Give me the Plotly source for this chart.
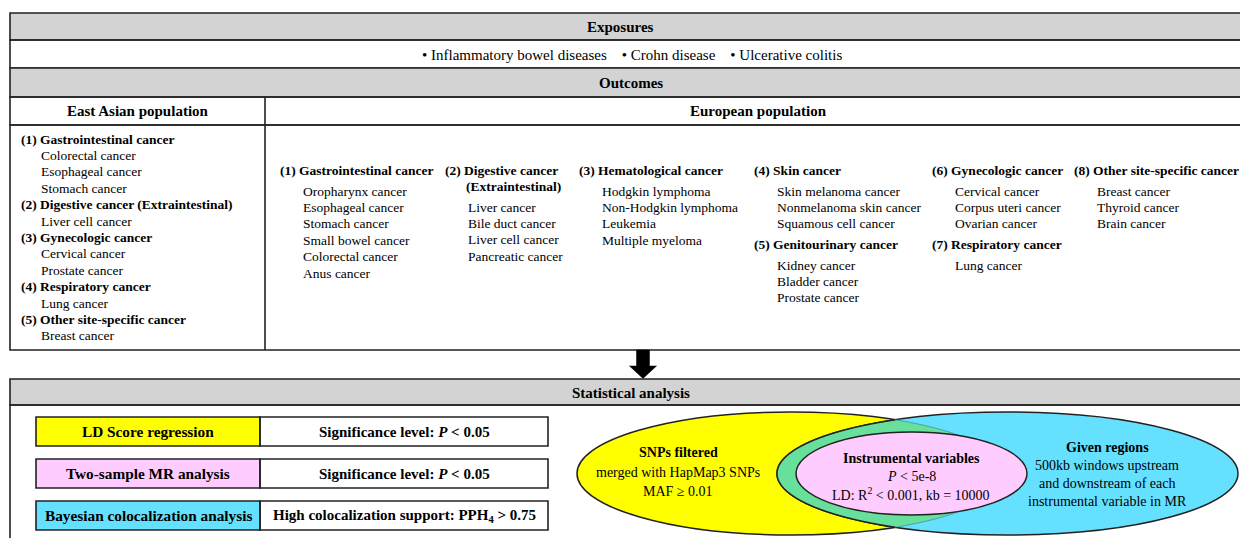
import numpy as np
import plotly.graph_objects as go

# ---------------- content ----------------
exposures = ["Inflammatory bowel diseases", "Crohn disease", "Ulcerative colitis"]

east_asian_headers = ["(1) Gastrointestinal cancer", "(2) Digestive cancer (Extraintestinal)",
                      "(3) Gynecologic cancer", "(4) Respiratory cancer", "(5) Other site-specific cancer"]
east_asian_items = [["Colorectal cancer", "Esophageal cancer", "Stomach cancer"],
                    ["Liver cell cancer"],
                    ["Cervical cancer", "Prostate cancer"],
                    ["Lung cancer"],
                    ["Breast cancer"]]

eu_headers = ["(1) Gastrointestinal cancer", "(2) Digestive cancer", "(3) Hematological cancer",
              "(4) Skin cancer", "(5) Genitourinary cancer", "(6) Gynecologic cancer",
              "(7) Respiratory cancer", "(8) Other site-specific cancer"]
eu_subheaders = ["", "(Extraintestinal)", "", "", "", "", "", ""]
eu_items = [["Oropharynx cancer", "Esophageal cancer", "Stomach cancer", "Small bowel cancer",
             "Colorectal cancer", "Anus cancer"],
            ["Liver cancer", "Bile duct cancer", "Liver cell cancer", "Pancreatic cancer"],
            ["Hodgkin lymphoma", "Non-Hodgkin lymphoma", "Leukemia", "Multiple myeloma"],
            ["Skin melanoma cancer", "Nonmelanoma skin cancer", "Squamous cell cancer"],
            ["Kidney cancer", "Bladder cancer", "Prostate cancer"],
            ["Cervical cancer", "Corpus uteri cancer", "Ovarian cancer"],
            ["Lung cancer"],
            ["Breast cancer", "Thyroid cancer", "Brain cancer"]]

methods = ["LD Score regression", "Two-sample MR analysis", "Bayesian colocalization analysis"]
criteria = ["Significance level: <i>P</i> < 0.05", "Significance level: <i>P</i> < 0.05",
            "High colocalization support: PPH<sub>4</sub> > 0.75"]
method_colors = ["#FFFF00", "#FFCCFF", "#66E0FF"]

snp_text = ["<b>SNPs filtered</b>", "merged with HapMap3 SNPs", "MAF ≥ 0.01"]
iv_text = ["<b>Instrumental variables</b>", "<i>P</i> < 5e-8", "LD: R<sup>2</sup> < 0.001, kb = 10000"]
region_text = ["<b>Given regions</b>", "500kb windows upstream", "and downstream of each",
               "instrumental variable in MR"]

# ---------------- styling ----------------
FONT = "Liberation Serif"
LC = "#222222"
LW = 1.6
GRAY = "#D3D3D3"
YEL, CYA, PNK, GRN = "#FFFF00", "#66E0FF", "#FFCCFF", "#66E09A"

shapes = []
annots = []


def rect(x0, y0, x1, y1, fill="rgba(0,0,0,0)", lw=LW):
    shapes.append(dict(type="rect", x0=x0, y0=y0, x1=x1, y1=y1, xref="x", yref="y",
                       fillcolor=fill, line=dict(color=LC, width=lw), layer="above"))


def line(x0, y0, x1, y1, lw=LW):
    shapes.append(dict(type="line", x0=x0, y0=y0, x1=x1, y1=y1, xref="x", yref="y",
                       line=dict(color=LC, width=lw), layer="above"))


def text(x, y, s, size=13.5, bold=False, anchor="left"):
    if bold:
        s = "<b>" + s + "</b>"
    annots.append(dict(x=x, y=y, xref="x", yref="y", text=s, showarrow=False,
                       xanchor=anchor, yanchor="middle", borderpad=0,
                       font=dict(family=FONT, size=size, color="black")))


# ---------------- top table ----------------
R = 1260
rect(10, 13, R, 40, GRAY)
rect(10, 40, R, 68)
rect(10, 68, R, 97, GRAY)
rect(10, 97, R, 125)
rect(10, 125, R, 350)
line(265, 97, 265, 350)

HS = 15
NB = "\u00a0"
text(620, 27, "Exposures", HS, True, "center")
text(632, 55, ("\u2022 " + exposures[0] + NB * 4 + "\u2022 " + exposures[1] + NB * 4
               + "\u2022 " + exposures[2]), HS, False, "center")
text(631, 83, "Outcomes", HS, True, "center")
text(138, 111, "East Asian population", HS, True, "center")
text(758, 111, "European population", HS, True, "center")

STEP = 16.4
y = 139
for h, items in zip(east_asian_headers, east_asian_items):
    text(20, y, h, bold=True)
    y += STEP
    for it in items:
        text(40, y, it)
        y += STEP

# European columns: (group index, x, header y)
eu_pos = [(0, 279, 170), (1, 444, 170), (2, 578, 170), (3, 753, 170), (4, 753, 244),
          (5, 931, 170), (6, 931, 244), (7, 1073, 170)]
for gi, x, hy in eu_pos:
    text(x, hy, eu_headers[gi], bold=True)
    yy = hy + 21
    ix = x + 23
    if eu_subheaders[gi]:
        text(x + 21, hy + 16.4, eu_subheaders[gi], bold=True)
        yy = hy + 37
    for it in eu_items[gi]:
        text(ix, yy, it)
        yy += STEP

# ---------------- arrow ----------------
shapes.append(dict(type="path", xref="x", yref="y",
                   path="M 636.5 350 L 649.5 350 L 649.5 366 L 656.5 366 L 643 378.5 L 629.5 366 L 636.5 366 Z",
                   fillcolor="black", line=dict(color="black", width=0.5), layer="above"))

# ---------------- statistical analysis ----------------
rect(10, 379, R, 405, GRAY)
rect(10, 405, R, 560)
text(631, 393, "Statistical analysis", HS, True, "center")

rows = [(417, 446), (459, 488), (501, 530)]
for (y0, y1), m, c, col in zip(rows, methods, criteria, method_colors):
    rect(36, y0, 260, y1, col)
    rect(260, y0, 548, y1)
    text(148, (y0 + y1) / 2, m, 15.3, True, "center")
    text(404, (y0 + y1) / 2, c, 15, True, "center")

# ellipses
c1, a1, b1 = 791.0, 214.0, 61.5   # yellow
c2, a2, b2 = 1007.5, 230.5, 61.5  # cyan
cy = 473.5
shapes.append(dict(type="circle", xref="x", yref="y", x0=c1 - a1, x1=c1 + a1, y0=cy - b1, y1=cy + b1,
                   fillcolor=YEL, line=dict(color=LC, width=1.5), layer="above"))
shapes.append(dict(type="circle", xref="x", yref="y", x0=c2 - a2, x1=c2 + a2, y0=cy - b2, y1=cy + b2,
                   fillcolor=CYA, line=dict(color=LC, width=1.5), layer="above"))

# lens (intersection of yellow and cyan)
th = np.linspace(-np.pi, np.pi, 2001)
yx, yy_ = c1 + a1 * np.cos(th), cy + b1 * np.sin(th)
inside_c = ((yx - c2) / a2) ** 2 + ((yy_ - cy) / b2) ** 2 <= 1
yarc = [(x, y) for x, y, k in zip(yx, yy_, inside_c) if k]
ph = np.linspace(0, 2 * np.pi, 2001)
cx_, cyy = c2 + a2 * np.cos(ph), cy + b2 * np.sin(ph)
inside_y = ((cx_ - c1) / a1) ** 2 + ((cyy - cy) / b1) ** 2 <= 1
carc = [(x, y) for x, y, k in zip(cx_, cyy, inside_y) if k]
yarc = sorted(yarc, key=lambda p: p[1])
carc = sorted(carc, key=lambda p: -p[1])


def pstr(pts, close=False):
    s = "M " + " L ".join(f"{x:.2f} {y:.2f}" for x, y in pts)
    return s + (" Z" if close else "")


shapes.append(dict(type="path", xref="x", yref="y", path=pstr(yarc + carc, True),
                   fillcolor=GRN, line=dict(width=0), layer="above"))
shapes.append(dict(type="path", xref="x", yref="y", path=pstr(carc),
                   line=dict(color=LC, width=1.5), layer="above"))
shapes.append(dict(type="path", xref="x", yref="y", path=pstr(yarc),
                   line=dict(color="#3a6a8a", width=0.6), layer="above"))

# pink inner ellipse
shapes.append(dict(type="circle", xref="x", yref="y", x0=796, x1=1027, y0=432, y1=515,
                   fillcolor=PNK, line=dict(color=LC, width=1.5), layer="above"))

for s, yv in zip(snp_text, [452, 472, 491]):
    text(678, yv, s, 14, False, "center")
for s, yv in zip(iv_text, [458, 476, 494]):
    text(911, yv, s, 14, False, "center")
for s, yv in zip(region_text, [447, 465, 483, 501]):
    text(1107, yv, s, 14, False, "center")

fig = go.Figure()
fig.update_layout(
    width=1240, height=538, margin=dict(l=0, r=0, t=0, b=0),
    paper_bgcolor="white", plot_bgcolor="white",
    xaxis=dict(range=[0, 1240], visible=False, fixedrange=True),
    yaxis=dict(range=[538, 0], visible=False, fixedrange=True),
    shapes=shapes, annotations=annots, showlegend=False,
)
fig.write_html("out.html", config={"displayModeBar": False, "staticPlot": True},
               post_script="document.body.style.margin='0';document.body.style.overflow='hidden';")
